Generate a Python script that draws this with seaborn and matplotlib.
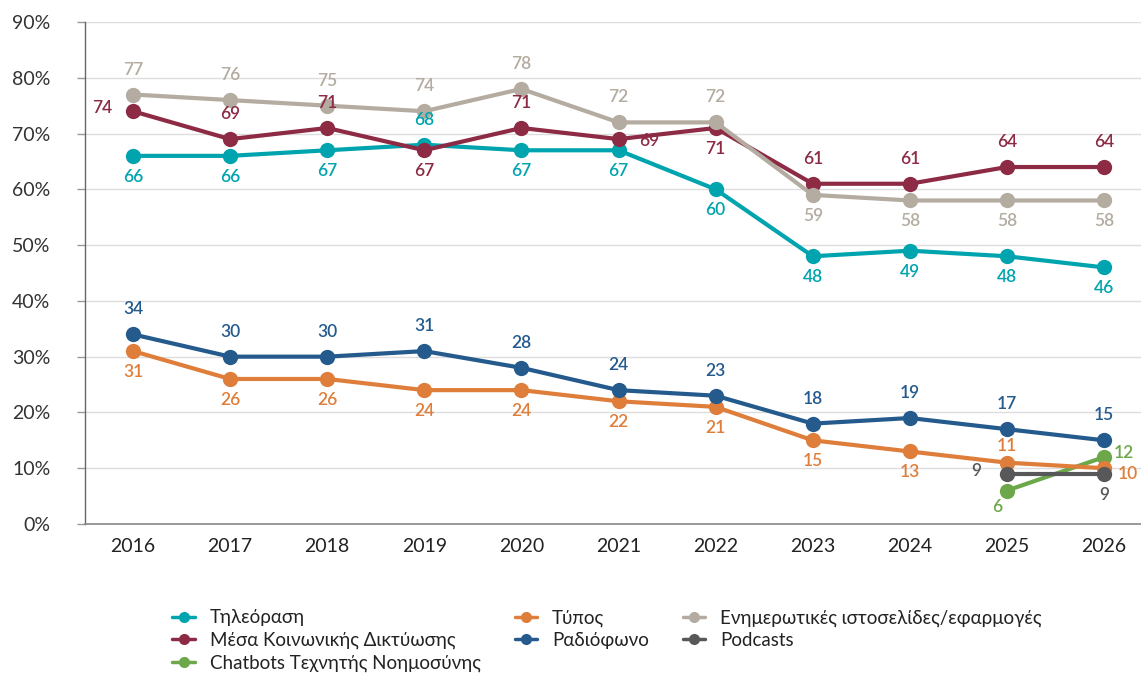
import numpy as np
import pandas as pd
import matplotlib
matplotlib.use('Agg')
import matplotlib.pyplot as plt
from matplotlib.lines import Line2D
import seaborn as sns

# 데이터
years = ['2016', '2017', '2018', '2019', '2020', '2021', '2022', '2023', '2024', '2025', '2026']
tv = [66, 66, 67, 68, 67, 67, 60, 48, 49, 48, 46]
social = [74, 69, 71, 67, 71, 69, 71, 61, 61, 64, 64]
news_sites = [77, 76, 75, 74, 78, 72, 72, 59, 58, 58, 58]
radio = [34, 30, 30, 31, 28, 24, 23, 18, 19, 17, 15]
press = [31, 26, 26, 24, 24, 22, 21, 15, 13, 11, 10]
podcasts = [None] * 9 + [9, 9]
chatbots = [None] * 9 + [6, 12]

series_names = ['Τηλεόραση', 'Μέσα Κοινωνικής Δικτύωσης', 'Chatbots Τεχνητής Νοημοσύνης',
                'Τύπος', 'Ραδιόφωνο', 'Ενημερωτικές ιστοσελίδες/εφαρμογές', 'Podcasts']
series_vals = [tv, social, chatbots, press, radio, news_sites, podcasts]
colors = ['#00A4AE', '#8D2B45', '#6CA74A', '#DE7E3A', '#245A8C', '#B4ABA1', '#58585A']

# label placement: a=above, b=below, l=left, r=right
label_pos = {
    'Τηλεόραση': list('bbbabbbbbbb'),
    'Μέσα Κοινωνικής Δικτύωσης': list('laabarbaaaa'),
    'Ενημερωτικές ιστοσελίδες/εφαρμογές': list('aaaaaaabbbb'),
    'Ραδιόφωνο': list('aaaaaaaaaaa'),
    'Τύπος': list('bbbbbbbbb') + ['a2', 'r2'],
    'Podcasts': [None] * 9 + ['l', 'b'],
    'Chatbots Τεχνητής Νοημοσύνης': [None] * 9 + ['bl', 'r3'],
}
offsets = {'a': (0, 18), 'a2': (0, 12), 'b': (0, -15), 'l': (-22, 2), 'r': (22, -1),
           'r2': (17, -4), 'r3': (14, 3), 'bl': (-7, -12)}

rows = []
for name, vals in zip(series_names, series_vals):
    for y, v in zip(years, vals):
        rows.append({'year': y, 'value': np.nan if v is None else v, 'series': name})
df = pd.DataFrame(rows)

sns.set_style('white')
plt.rcParams['font.family'] = ['Lato', 'Open Sans', 'DejaVu Sans']

fig = plt.figure(figsize=(11.41, 6.73), dpi=100)
ax = fig.add_axes([85 / 1141, 1 - 524 / 673, 1 - 85 / 1141, (524 - 22) / 673])

palette = dict(zip(series_names, colors))
sns.lineplot(data=df, x='year', y='value', hue='series', palette=palette, marker='o',
             markersize=11, markeredgewidth=0, linewidth=3, sort=False, legend=False, ax=ax)

for name, vals in zip(series_names, series_vals):
    for i, v in enumerate(vals):
        if v is None:
            continue
        dx, dy = offsets[label_pos[name][i]]
        ax.annotate(str(v), (i, v), xytext=(dx, dy), textcoords='offset points',
                    ha='center', va='center', fontsize=12.5, color=palette[name], fontweight='semibold')

ax.set_ylim(0, 90)
ax.set_xlim(-0.494, 10.38)
ax.set_yticks(range(0, 91, 10))
ax.set_yticklabels([f'{t}%' for t in range(0, 91, 10)], fontsize=14, color='#333333')
ax.set_xticks(range(len(years)))
ax.set_xticklabels(years, fontsize=14, color='#222222')
ax.set_xticks(np.arange(0.5, len(years) - 0.5, 1), minor=True)
ax.tick_params(axis='x', which='major', length=0, pad=10)
ax.tick_params(axis='x', which='minor', length=6, color='#666666', direction='out', width=1)
ax.tick_params(axis='y', length=6, color='#999999', pad=19, width=1, left=True)
ax.yaxis.grid(True, color='#DDDDDD', linewidth=1)
ax.set_axisbelow(True)
ax.set_xlabel('')
ax.set_ylabel('')
for s in ['top', 'right']:
    ax.spines[s].set_visible(False)
ax.spines['left'].set_color('#666666')
ax.spines['bottom'].set_color('#888888')
ax.spines['left'].set_linewidth(1)
ax.spines['bottom'].set_linewidth(1.2)

handles = [Line2D([], [], color=c, marker='o', markersize=8, markeredgewidth=0, linewidth=2.5)
           for c in colors]
fig.legend(handles, series_names, ncol=3, loc='upper left', bbox_to_anchor=(163 / 1141, 1 - 600 / 673),
           frameon=False, fontsize=13.5, handlelength=1.2, handletextpad=0.8, columnspacing=1.8,
           labelspacing=0.28, borderpad=0, labelcolor='#222222')

fig.savefig('out.png', dpi=100)
